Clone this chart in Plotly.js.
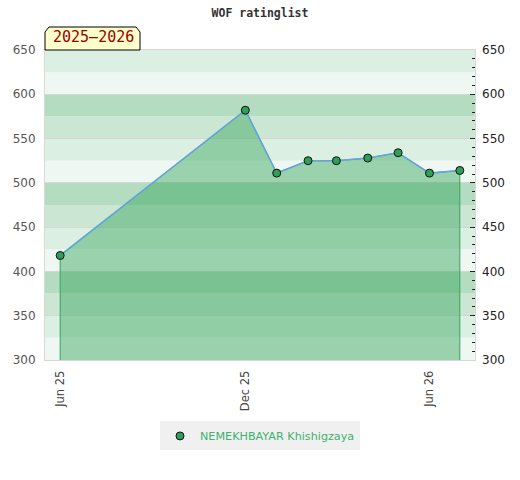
<!DOCTYPE html>
<html>
<head>
<meta charset="utf-8">
<script src="https://cdn.plot.ly/plotly-3.0.1.min.js"></script>
<style>html,body{margin:0;padding:0;background:#fff;}#chart{width:520px;height:480px;}</style>
</head>
<body>
<div id="chart"></div>
<script>
// Data
var dates = ['2025-06-01','2025-12-01','2026-01-01','2026-02-01','2026-03-01','2026-04-01','2026-05-01','2026-06-01','2026-07-01'];
var ratings = [418, 582, 511, 525, 525, 528, 534, 511, 514];
var playerName = 'NEMEKHBAYAR Khishigzaya';
var tickDates = ['2025-06-01','2025-12-01','2026-06-01'];
var tickLabels = ['Jun 25','Dec 25','Jun 26'];
var seasonLabel = '2025–2026';
var chartTitle = 'WOF ratinglist';
var yMin = 300, yMax = 650, bandStep = 25;
var xRange = ['2025-05-17','2026-07-16'];

var bandColors = ['#eef7f1','#dcefe3','#cbe7d4','#b3dcc1'];
var shapes = [];
var bi = 0;
for (var v = yMin; v < yMax; v += bandStep) {
  shapes.push({type:'rect', xref:'paper', yref:'y', x0:0, x1:1, y0:v, y1:v+bandStep,
    fillcolor: bandColors[bi % 4], line:{width:0}, layer:'below'});
  bi++;
}
// season tab with chamfered top corners
shapes.push({type:'path', xref:'paper', yref:'paper', xsizemode:'pixel', ysizemode:'pixel',
  xanchor:0, yanchor:1, path:'M0,0 L0,18 L4,23 L91,23 L95,18 L95,0 Z',
  fillcolor:'#ffffcc', line:{color:'#000', width:1}, layer:'above'});

var fillX = [dates[0]].concat(dates, [dates[dates.length-1]]);
var fillY = [yMin].concat(ratings, [yMin]);

var traces = [
  {x: fillX, y: fillY, type:'scatter', mode:'lines', fill:'toself',
   fillcolor:'rgba(40,160,80,0.42)', line:{color:'#34a35c', width:1},
   showlegend:false, hoverinfo:'skip'},
  {x: dates, y: ratings, type:'scatter', mode:'lines', showlegend:false,
   line:{color:'#64a4da', width:1.6}, hoverinfo:'skip'},
  {x: dates, y: ratings, type:'scatter', mode:'markers', name: playerName,
   marker:{size:8, color:'#2e9e5a', line:{color:'#111', width:1}}},
  {x: dates, y: ratings, yaxis:'y2', type:'scatter', mode:'none', showlegend:false, hoverinfo:'skip'}
];

var layout = {
  width:520, height:480,
  margin:{l:45, r:45, t:50, b:120},
  paper_bgcolor:'#fff', plot_bgcolor:'#fff',
  font:{family:'DejaVu Sans', size:12, color:'#555'},
  title:{text: chartTitle, x:0.5, xanchor:'center', y:0.973, yanchor:'middle',
    font:{family:'DejaVu Sans Mono', size:11.5, color:'#333', weight:'bold'}},
  xaxis:{type:'date', range:xRange, tickvals:tickDates, ticktext:tickLabels, tickangle:-90,
    showgrid:false, zeroline:false, showline:true, linecolor:'#d8d8d8', linewidth:1, mirror:true,
    ticks:'outside', ticklen:5, tickcolor:'rgba(0,0,0,0)', tickfont:{size:11.5, color:'#444'}},
  yaxis:{range:[yMin, yMax], dtick:50, showgrid:true, gridcolor:'#d6d6d6', zeroline:false,
    showline:true, linecolor:'#d8d8d8', mirror:true, ticks:'outside', ticklen:6, tickcolor:'rgba(0,0,0,0)',
    tickfont:{size:12, color:'#555'}},
  yaxis2:{overlaying:'y', side:'right', range:[yMin, yMax], dtick:50, showgrid:false, zeroline:false,
    ticks:'inside', ticklen:5, tickcolor:'#222', tickfont:{size:12, color:'#222'}, ticklabelstandoff:6,
    minor:{dtick:10, ticks:'inside', ticklen:3, tickcolor:'#222', showgrid:false}},
  shapes: shapes,
  annotations:[{xref:'paper', yref:'paper', x:0, y:1, xanchor:'left', yanchor:'bottom',
    xshift:6, yshift:2, text: seasonLabel, showarrow:false,
    font:{family:'DejaVu Sans Mono', size:15, color:'#990000'}}],
  showlegend:true,
  legend:{orientation:'h', x:0.5, xanchor:'center', y:-0.245, yanchor:'middle',
    bgcolor:'#f0f0f0', font:{size:11.2, color:'#3cb36e'}, itemwidth:30}
};

Plotly.newPlot('chart', traces, layout, {displayModeBar:false, staticPlot:true});
</script>
</body>
</html>
